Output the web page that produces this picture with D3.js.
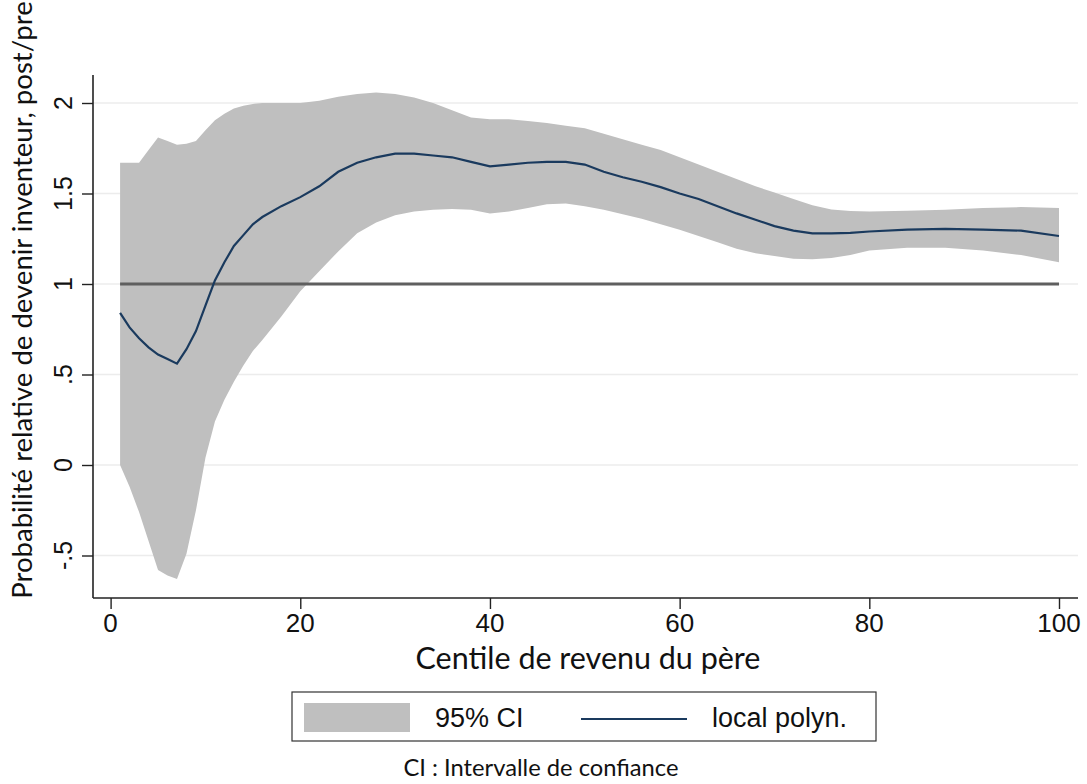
<!DOCTYPE html>
<html><head><meta charset="utf-8">
<script src="https://cdn.jsdelivr.net/npm/d3@7"></script>
<style>body{margin:0;background:#fff}svg{display:block}</style>
</head><body>
<script>
const centiles = [1,2,3,4,5,6,7,8,9,10,11,12,13,14,15,16,18,20,22,24,26,28,30,32,34,36,38,40,42,44,46,48,50,52,54,56,58,60,62,64,66,68,70,72,74,76,78,80,84,88,92,96,100];
const ciUpper = [1.67,1.67,1.67,1.74,1.81,1.79,1.77,1.775,1.79,1.85,1.905,1.94,1.97,1.985,1.995,2.0,2.0,2.0,2.012,2.035,2.05,2.058,2.05,2.03,2.0,1.96,1.92,1.91,1.91,1.9,1.89,1.875,1.86,1.83,1.8,1.77,1.74,1.70,1.66,1.62,1.58,1.54,1.505,1.47,1.435,1.412,1.403,1.40,1.405,1.41,1.42,1.425,1.42];
const ciLower = [0.0,-0.12,-0.26,-0.42,-0.58,-0.61,-0.63,-0.49,-0.25,0.04,0.24,0.36,0.46,0.55,0.63,0.69,0.82,0.96,1.07,1.18,1.28,1.34,1.38,1.40,1.41,1.415,1.41,1.39,1.40,1.42,1.44,1.445,1.43,1.41,1.385,1.36,1.33,1.30,1.265,1.23,1.195,1.17,1.155,1.14,1.137,1.143,1.16,1.185,1.20,1.20,1.185,1.16,1.12];
const localPolyn = [0.84,0.76,0.70,0.65,0.61,0.585,0.56,0.64,0.74,0.88,1.02,1.12,1.21,1.27,1.33,1.37,1.43,1.48,1.54,1.62,1.67,1.70,1.72,1.72,1.71,1.70,1.675,1.65,1.66,1.67,1.675,1.675,1.66,1.62,1.59,1.565,1.535,1.50,1.47,1.43,1.39,1.355,1.32,1.295,1.28,1.28,1.282,1.29,1.30,1.305,1.30,1.295,1.265];
const refValue = 1;
const xTicks = [0,20,40,60,80,100];
const yTicks = [-0.5,0,0.5,1,1.5,2];
const yTickLabels = ["-.5","0",".5","1","1.5","2"];
const yTitle = "Probabilité relative de devenir inventeur, post/pre";
const xTitle = "Centile de revenu du père";
const legendLabels = ["95% CI","local polyn."];
const caption = "CI : Intervalle de confiance";

const W=1087,H=784;
const svg=d3.select("body").append("svg").attr("width",W).attr("height",H);
const x=d3.scaleLinear().domain([0,100]).range([110.6,1059]);
const y=d3.scaleLinear().domain([-0.5,2]).range([555.5,103]);
const pLeft=93,pRight=1078,pTop=75,pBottom=598;
const tickFont="'Liberation Sans', Arial, sans-serif";
const titleFont="Lato, 'Open Sans', sans-serif";

// gridlines
svg.append("g").selectAll("line").data(yTicks).join("line")
  .attr("x1",pLeft).attr("x2",pRight).attr("y1",d=>y(d)).attr("y2",d=>y(d))
  .attr("stroke","#ececec").attr("stroke-width",1.5);

const data=centiles.map((c,i)=>({c,lo:ciLower[i],hi:ciUpper[i],m:localPolyn[i]}));
svg.append("path").datum(data)
  .attr("d",d3.area().x(d=>x(d.c)).y0(d=>y(d.lo)).y1(d=>y(d.hi)).curve(d3.curveLinear))
  .attr("fill","#bfbfbf");
// reference line
svg.append("line").attr("x1",x(1)).attr("x2",x(100)).attr("y1",y(refValue)).attr("y2",y(refValue))
  .attr("stroke","#5f5f5f").attr("stroke-width",3);
svg.append("path").datum(data)
  .attr("d",d3.line().x(d=>x(d.c)).y(d=>y(d.m)).curve(d3.curveLinear))
  .attr("fill","none").attr("stroke","#1a3a5e").attr("stroke-width",2.2);

// axes
const yAxis=svg.append("g").attr("transform",`translate(${pLeft},0)`)
  .call(d3.axisLeft(y).tickValues(yTicks).tickSize(11).tickFormat(""));
yAxis.select(".domain").attr("d",`M0,${pTop}V${pBottom}`);
const xAxis=svg.append("g").attr("transform",`translate(0,${pBottom})`)
  .call(d3.axisBottom(x).tickValues(xTicks).tickSize(11).tickFormat(""));
xAxis.select(".domain").attr("d",`M${pLeft},0H${pRight}`);
svg.selectAll(".domain").attr("stroke","#222").attr("stroke-width",1.6);
svg.selectAll(".tick line").attr("stroke","#222").attr("stroke-width",1.4);

// tick labels
svg.append("g").selectAll("text").data(yTicks).join("text")
  .attr("transform",d=>`translate(72,${y(d)}) rotate(-90)`)
  .attr("text-anchor","middle").attr("font-family",tickFont).attr("font-size",25)
  .attr("fill","#111").text((d,i)=>yTickLabels[i]);
svg.append("g").selectAll("text").data(xTicks).join("text")
  .attr("x",d=>x(d)).attr("y",632).attr("text-anchor","middle")
  .attr("font-family",tickFont).attr("font-size",26).attr("fill","#111").text(d=>d);

function fitText(sel,target){
  const n=sel.node(); const w=n.getComputedTextLength();
  const fs=parseFloat(sel.attr("font-size"));
  if(w>0) sel.attr("font-size",fs*target/w);
}
const yt=svg.append("text").attr("transform","translate(32,300) rotate(-90)")
  .attr("text-anchor","middle").attr("font-family",titleFont).attr("font-size",24)
  .attr("fill","#111").text(yTitle);
fitText(yt,598);
const xt=svg.append("text").attr("x",588).attr("y",669).attr("text-anchor","middle")
  .attr("font-family",titleFont).attr("font-size",24).attr("fill","#111").text(xTitle);
fitText(xt,345);

// legend
svg.append("rect").attr("x",292).attr("y",692).attr("width",584).attr("height",49)
  .attr("fill","#fff").attr("stroke","#333").attr("stroke-width",1.2);
svg.append("rect").attr("x",304).attr("y",703).attr("width",106).attr("height",29).attr("fill","#bfbfbf");
svg.append("text").attr("x",435).attr("y",727).attr("font-family",tickFont).attr("font-size",27)
  .attr("fill","#111").text(legendLabels[0]);
svg.append("line").attr("x1",581).attr("x2",687).attr("y1",719).attr("y2",719)
  .attr("stroke","#1a3a5e").attr("stroke-width",2.2);
svg.append("text").attr("x",712).attr("y",727).attr("font-family",tickFont).attr("font-size",27)
  .attr("fill","#111").text(legendLabels[1]);

const cap=svg.append("text").attr("x",541).attr("y",776).attr("text-anchor","middle")
  .attr("font-family",titleFont).attr("font-size",24).attr("fill","#111").text(caption);
fitText(cap,275);
</script>
</body></html>
